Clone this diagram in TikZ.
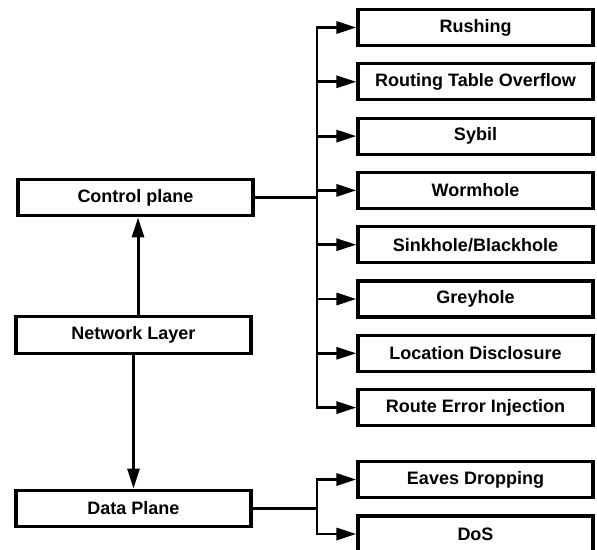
\documentclass[tikz,border=0pt]{standalone}
\usepackage{fontspec}
\setmainfont{Liberation Sans}
\usetikzlibrary{arrows.meta}
\tikzset{
  box/.style={draw=black, line width=2.4pt, fill=white, minimum width=176.25pt, minimum height=27pt, inner sep=0pt, font=\bfseries\fontsize{13.5}{15}\selectfont},
  lbox/.style={box, minimum height=27.5pt},
  conn/.style={draw=black, line width=2.2pt},
  arr/.style={conn, -{Triangle[length=15pt, width=9pt]}},
  bus/.style={conn, line cap=rect}
}
\begin{document}
\begin{tikzpicture}[x=0.75pt, y=-0.75pt]
\useasboundingbox (0,0) rectangle (597,550);
\clip (0,0) rectangle (597,550);
% left column
\node[lbox] (ctrl) at (135.5,197.5) {Control plane};
\node[lbox] (net) at (133.5,335) {Network Layer};
\node[lbox] (data) at (133.5,508.5) {Data Plane};
% right column
\node[box] (r1) at (475.5,27.5) {Rushing};
\node[box] (r2) at (475.5,81.8) {Routing Table Overflow};
\node[box] (r3) at (475.5,136.1) {Sybil};
\node[box] (r4) at (475.5,190.4) {Wormhole};
\node[box] (r5) at (475.5,244.7) {Sinkhole/Blackhole};
\node[box] (r6) at (475.5,299) {Greyhole};
\node[box] (r7) at (475.5,353.3) {Location Disclosure};
\node[box] (r8) at (475.5,407.6) {Route Error Injection};
\node[box] (d1) at (475.5,479.5) {Eaves Dropping};
\node[box] (d2) at (475.5,534) {DoS};
% bus coordinates
\coordinate (cb) at (317,197.5);
\coordinate (db) at (317,508.5);
% vertical links
\draw[arr] ([xshift=3.4pt]net.north) -- ([xshift=1.9pt]ctrl.south);
\draw[arr] (net.south) -- (data.north);
% control plane bus
\draw[conn] (ctrl.east) -- (cb);
\draw[bus] (cb |- r1.west) -- (cb |- r8.west);
\foreach \n in {r1,r2,r3,r4,r5,r6,r7,r8}
  \draw[arr] (cb |- \n.west) -- (\n.west);
% data plane bus
\draw[conn] (data.east) -- (db);
\draw[bus] (db |- d1.west) -- (db |- d2.west);
\foreach \n in {d1,d2}
  \draw[arr] (db |- \n.west) -- (\n.west);
\end{tikzpicture}
\end{document}
